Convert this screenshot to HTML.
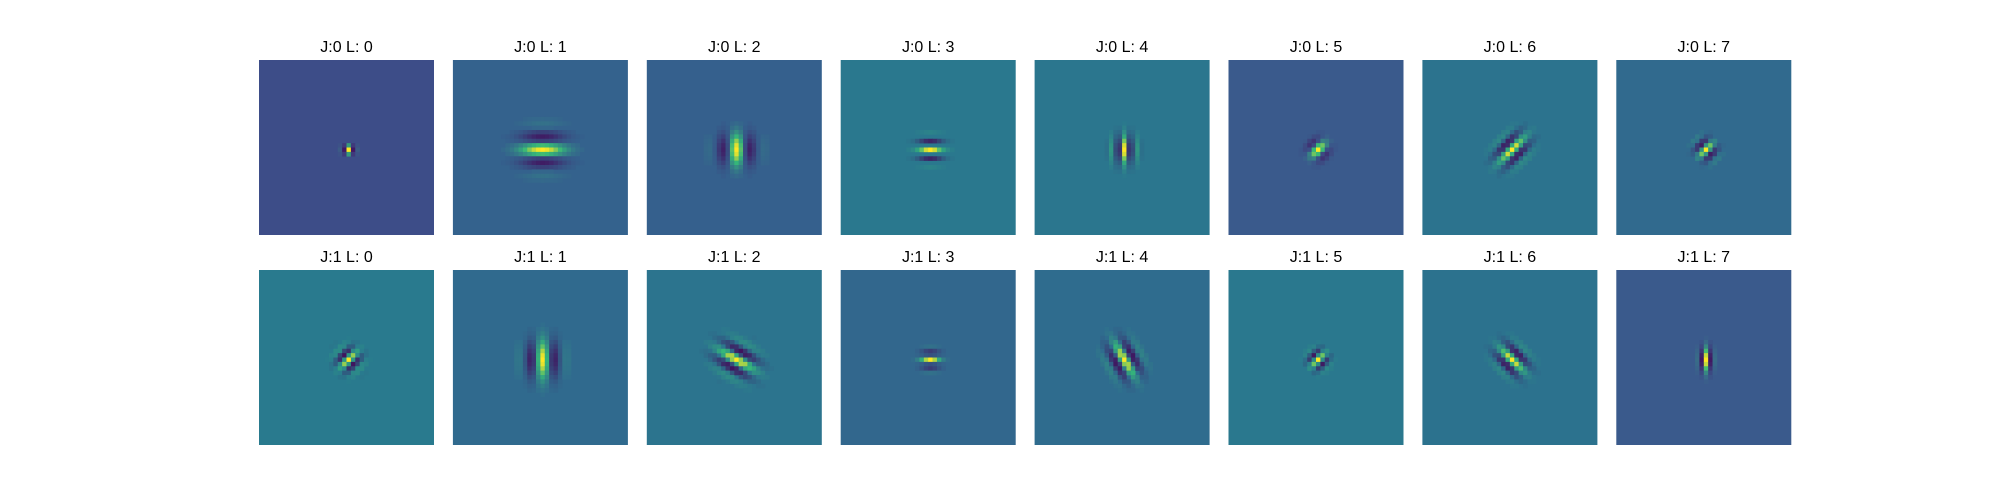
<!DOCTYPE html>
<html><head><meta charset="utf-8">
<style>
html,body{margin:0;padding:0;background:#fff;}
svg{display:block;}
text{font-family:"Liberation Sans","DejaVu Sans",sans-serif;font-size:16px;fill:#000;}
</style></head>
<body>
<svg id="fig" width="2000" height="500" viewBox="0 0 2000 500"></svg>
<script>
// Panel data (row J, column L)
const jValues = [0, 1];
const lValues = [0, 1, 2, 3, 4, 5, 6, 7];
const bgColors = [
  ["#3d4d88","#34628d","#35608d","#2a788e","#2b768e","#3a5a8c","#2c738e","#316a8e"],
  ["#297a8e","#306a8e","#2c748e","#32678d","#2f6c8e","#2a788e","#2c728e","#3a5a8c"]
];
// wave direction (deg, screen coords), sigma across stripes, sigma along stripes, wavelength (cells)
const thetas = [[0,90,0,90,0,45,45,45],[45,0,-60,90,-30,45,-45,0]];
const sigmaAcross = [[1.0,2.8,2.8,1.8,1.8,1.6,2.0,1.7],[1.8,2.6,2.4,1.4,2.2,1.5,2.0,1.1]];
const sigmaAlong = [[0.7,3.5,2.5,2.0,2.2,1.5,2.8,1.5],[1.8,3.0,3.2,1.5,3.0,1.5,2.6,1.8]];
const wavelengths = [[2.4,6.5,7,4,3,5,4,3.6],[3.4,6,4.6,3.5,4.4,3.2,4,2.4]];

const NS="http://www.w3.org/2000/svg";
const svg=document.getElementById('fig');
const x0=259, dx=193.9, pw=175, rowY=[60,270], titleY=[52,262], N=40, cs=pw/N;
function hex(c){return [parseInt(c.slice(1,3),16),parseInt(c.slice(3,5),16),parseInt(c.slice(5,7),16)];}
function lerp(a,b,t){return a.map((v,i)=>v+(b[i]-v)*t);}
function rgb(a){return 'rgb('+a.map(v=>Math.round(v)).join(',')+')';}
const yel=hex("#fde725"), grn=hex("#35b779"), purp=hex("#440154");
function col(bg,v){
  if(v>=0){ return v<0.5?lerp(bg,grn,v*2):lerp(grn,yel,(v-0.5)*2);}
  return lerp(bg,purp,Math.min(1,-v*1.3));
}
jValues.forEach((J,r)=>{
  lValues.forEach((L,c)=>{
    const g=document.createElementNS(NS,'g');
    
    
    const px=x0+c*dx, py=rowY[r];
    const bg=hex(bgColors[r][c]);
    const rect=document.createElementNS(NS,'rect');
    
    
    rect.setAttribute('x',px);rect.setAttribute('y',py);rect.setAttribute('width',pw);rect.setAttribute('height',pw);
    rect.setAttribute('fill',bgColors[r][c]);
    g.appendChild(rect);
    const th=thetas[r][c]*Math.PI/180, ct=Math.cos(th), st=Math.sin(th);
    const sa=sigmaAcross[r][c], sl=sigmaAlong[r][c], lam=wavelengths[r][c];
    for(let i=6;i<34;i++)for(let j=6;j<34;j++){
      const x=i-20, y=j-20;
      const u=x*ct+y*st, w=-x*st+y*ct;
      const env=Math.exp(-(u*u)/(2*sa*sa)-(w*w)/(2*sl*sl));
      const v=env*Math.cos(2*Math.PI*u/lam);
      if(Math.abs(v)<0.02)continue;
      const cell=document.createElementNS(NS,'rect');
      
      
      cell.setAttribute('x',(px+i*cs).toFixed(2));cell.setAttribute('y',(py+j*cs).toFixed(2));
      cell.setAttribute('width',(cs+0.3).toFixed(2));cell.setAttribute('height',(cs+0.3).toFixed(2));
      cell.setAttribute('fill',rgb(col(bg,v)));
      g.appendChild(cell);
    }
    const t=document.createElementNS(NS,'text');
    
    
    t.setAttribute('x',px+pw/2);t.setAttribute('y',titleY[r]);t.setAttribute('text-anchor','middle');
    t.textContent='J:'+J+' L: '+L;
    g.appendChild(t);
    svg.appendChild(g);
  });
});
</script>
</body></html>
